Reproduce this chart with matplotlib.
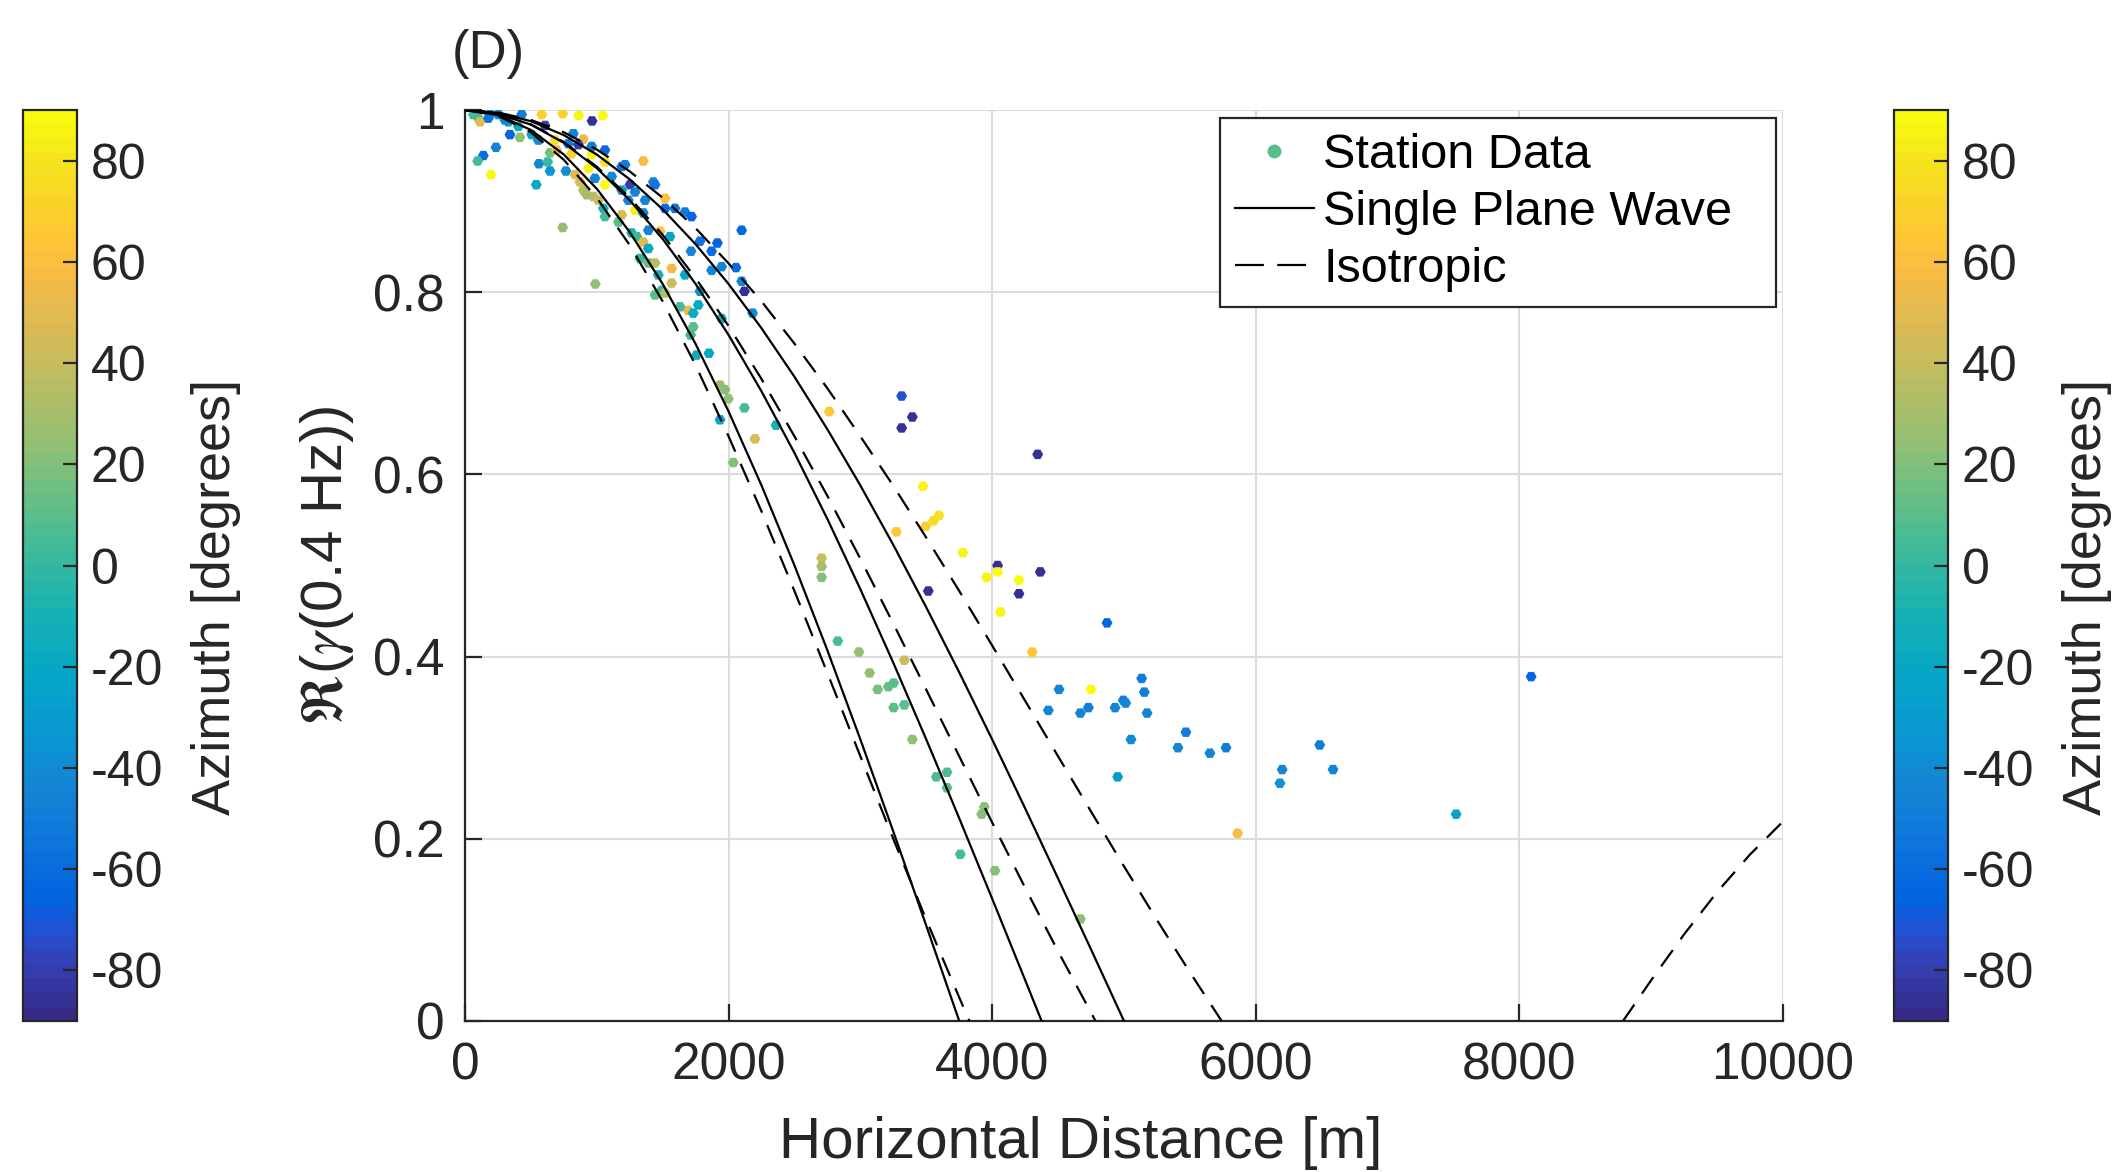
import matplotlib
matplotlib.use("Agg")
import matplotlib.pyplot as plt
from matplotlib.colors import LinearSegmentedColormap
from matplotlib.lines import Line2D

plt.rcParams["font.family"] = ["Liberation Sans", "DejaVu Sans"]
plt.rcParams["mathtext.fontset"] = "stix"
plt.rcParams["axes.unicode_minus"] = False

# station data: horizontal distance [m], coherence, azimuth [deg]
station_dist = [
    190, 253, 101, 114, 177, 430, 582, 741, 862, 964, 1045, 329, 341, 417, 405, 506,
    556, 607, 235, 139, 96, 197, 561, 627, 645, 645, 766, 541, 683, 784, 822, 898,
    695, 809, 860, 961, 1062, 936, 961, 1062, 835, 872, 898, 923, 974, 1012, 986, 1062,
    1113, 1189, 1214, 1353, 1429, 1442, 1518, 1252, 1290, 1189, 1239, 1366, 1290, 1353,
    1518, 1593, 1669, 1719, 1050, 1062, 1189, 1164, 1391, 1480, 1555, 1265, 1303, 1353,
    1391, 1328, 1391, 1442, 1467, 1568, 1568, 1492, 1518, 1442, 1669, 1715, 1783, 1871,
    1915, 1947, 1871, 2056, 2099, 2099, 2120, 2182, 1783, 1770, 1694, 1732, 1631, 1732,
    1712, 1757, 1851, 1947, 1935, 1972, 1998, 2120, 1935, 741, 989, 63, 303, 2036,
    2360, 2200, 2764, 3313, 3394, 3313, 4345, 3475, 3596, 3554, 3495, 3273, 3778, 4041,
    4041, 3958, 4203, 4365, 4203, 3515, 4062, 4871, 4304, 2706, 2706, 2706, 2828, 2989,
    3333, 3070, 3252, 3212, 3131, 3333, 3252, 3394, 4507, 4750, 4426, 4669, 4730, 4932,
    4995, 5013, 5134, 5154, 5175, 5053, 3576, 3657, 3657, 3940, 3920, 3758, 4021, 4669,
    4952, 5862, 5409, 5470, 5652, 5774, 6200, 6183, 6485, 6586, 7520, 8089,
]
station_coh = [
    0.995, 0.995, 0.991, 0.987, 0.991, 0.995, 0.995, 0.996, 0.994, 0.988, 0.994, 0.987,
    0.973, 0.970, 0.982, 0.973, 0.967, 0.983, 0.959, 0.950, 0.944, 0.929, 0.941, 0.943,
    0.953, 0.933, 0.933, 0.918, 0.967, 0.963, 0.974, 0.968, 0.956, 0.952, 0.962, 0.951,
    0.943, 0.936, 0.960, 0.956, 0.929, 0.921, 0.912, 0.907, 0.905, 0.901, 0.925, 0.918,
    0.927, 0.938, 0.940, 0.944, 0.921, 0.918, 0.903, 0.918, 0.910, 0.912, 0.901, 0.901,
    0.890, 0.887, 0.892, 0.892, 0.888, 0.883, 0.892, 0.883, 0.885, 0.877, 0.868, 0.867,
    0.861, 0.865, 0.861, 0.855, 0.848, 0.837, 0.832, 0.832, 0.819, 0.826, 0.810, 0.802,
    0.799, 0.797, 0.819, 0.845, 0.856, 0.845, 0.854, 0.828, 0.824, 0.827, 0.868, 0.812,
    0.801, 0.777, 0.801, 0.786, 0.780, 0.777, 0.784, 0.762, 0.753, 0.731, 0.733, 0.771,
    0.698, 0.693, 0.683, 0.673, 0.660, 0.871, 0.809, 0.995, 0.989, 0.613,
    0.654, 0.639, 0.669, 0.686, 0.663, 0.651, 0.622, 0.587, 0.555, 0.549, 0.543, 0.537,
    0.514, 0.500, 0.493, 0.487, 0.484, 0.493, 0.469, 0.472, 0.449, 0.437, 0.405, 0.508,
    0.499, 0.487, 0.417, 0.405, 0.396, 0.382, 0.371, 0.367, 0.364, 0.347, 0.344, 0.309,
    0.364, 0.364, 0.341, 0.338, 0.344, 0.344, 0.352, 0.349, 0.376, 0.361, 0.338, 0.309,
    0.268, 0.273, 0.256, 0.235, 0.227, 0.183, 0.165, 0.112, 0.268, 0.206, 0.300, 0.317,
    0.294, 0.300, 0.276, 0.261, 0.303, 0.276, 0.227, 0.378,
]
station_az = [
    -40, -40, 5, 50, -55, -50, 70, 72, 85, -85, 88, -20, -62, 25, -15, -20,
    -40, -80, -45, -60, 5, 88, -40, 0, 15, -35, -40, -20, 80, -50, -45, 55,
    55, 70, -80, 85, 80, 85, -50, -60, 50, 45, 35, 30, 35, 40, -45, 88,
    -40, -55, -50, 58, -45, -55, 60, -80, -45, -30, -45, -45, 85, -45,
    -60, -55, -50, -62, -10, 5, 45, 10, -45, 62, -25, -10, 0, 50,
    -20, 0, 15, 35, -10, 55, 40, 0, 35, 10, -20, -45, -55, -60,
    -65, -45, -45, -60, -62, -45, -85, -40, -35, -20, 55, -15, 5, 10,
    5, -15, -20, -15, 25, 20, 25, 5, -20, 25, 25, 5, -40, 22,
    -10, 45, 65, -72, -85, -85, -85, 85, 80, 75, 70, 65, 85, -85,
    88, 85, 88, -85, -85, -85, 85, -62, 65, 40, 30, 20, 5, 25,
    40, 25, 10, 12, 18, 10, 10, 25, -45, 88, -45, -45, -50, -45,
    -48, -45, -50, -50, -45, -40, 8, 8, 10, 22, 22, 5, 20, 20,
    -30, 58, -45, -50, -45, -48, -45, -35, -50, -45, -25, -62,
]

# model curves, values read every 250 m along the distance axis
curve_dist = [0, 250, 500, 750, 1000, 1250, 1500, 1750, 2000, 2250, 2500, 2750,
              3000, 3250, 3500, 3750, 4000, 4250, 4500, 4750, 5000, 5250, 5500]
plane_wave_6000 = [1, .9945, .9781, .9511, .9135, .8660, .8090, .7431, .6691, .5878,
                   .5000, .4067, .3090, .2079, .1045]
plane_wave_7000 = [1, .9960, .9839, .9640, .9362, .9010, .8584, .8090, .7530, .6911,
                   .6235, .5509, .4739, .3931, .3090, .2225, .1342, .0449]
plane_wave_8000 = [1, .9969, .9877, .9724, .9511, .9239, .8910, .8526, .8090, .7604,
                   .7071, .6494, .5878, .5225, .4540, .3827, .3090, .2334, .1564, .0785]
plane_wave_zero = [3750, 4375, 5000]

iso_4000 = [1, .9938, .9755, .9453, .9037, .8516, .7899, .7198, .6417, .5594, .4719,
            .3818, .2905, .1998, .1110, .0258]
iso_5000 = [1, .9961, .9843, .9648, .9378, .9037, .8629, .8154, .7629, .7046, .6417,
            .5763, .5073, .4361, .3636, .2905, .2178, .1462, .0764, .0091]
iso_6000 = [1, .9973, .9891, .9755, .9566, .9326, .9037, .8702, .8316, .7899, .7435,
            .6944, .6417, .5874, .5305, .4720, .4121, .3515, .2905, .2299, .1698,
            .1109, .0535]
iso_zero = [3827, 4784, 5741]
iso_4000_tail_dist = [8786, 9000, 9250, 9500, 9750, 10000]
iso_4000_tail = [0, .0448, .0952, .1415, .1828, .2190]

# parula anchors (index out of 63, rgb)
parula_idx = [0, 4, 6, 8, 12, 16, 20, 24, 28, 32, 36, 40, 44, 48, 52, 54, 56, 60, 63]
parula_rgb = [
    (0.2081, 0.1663, 0.5292), (0.1959, 0.2645, 0.7279), (0.1253, 0.3242, 0.8303),
    (0.0117, 0.3875, 0.8820), (0.0498, 0.4586, 0.8641), (0.0793, 0.5200, 0.8312),
    (0.0343, 0.5966, 0.8199), (0.0228, 0.6535, 0.7768), (0.0843, 0.6928, 0.7062),
    (0.2178, 0.7250, 0.6193), (0.3953, 0.7459, 0.5244), (0.5709, 0.7485, 0.4494),
    (0.7184, 0.7411, 0.3905), (0.8507, 0.7299, 0.3360), (0.9739, 0.7314, 0.2666),
    (0.9990, 0.7653, 0.2164), (0.9880, 0.8066, 0.1794), (0.9589, 0.8949, 0.1132),
    (0.9763, 0.9831, 0.0538),
]

DARK = "#262626"


def make_parula():
    pts = [(i / 63.0, c) for i, c in zip(parula_idx, parula_rgb)]
    return LinearSegmentedColormap.from_list("parula", pts, N=64)


def main():
    parula = make_parula()
    fig = plt.figure(figsize=(21.26, 11.72), dpi=100)
    ax = fig.add_axes([465 / 2126, 1 - 1021 / 1172, 1318 / 2126, 911 / 1172])

    sc = ax.scatter(station_dist, station_coh, c=station_az, cmap=parula,
                    vmin=-90, vmax=90, s=62, marker="H", linewidths=0, zorder=2)

    dash = (0, (9, 6))
    for vals, zero in zip([plane_wave_6000, plane_wave_7000, plane_wave_8000],
                          plane_wave_zero):
        ax.plot(curve_dist[:len(vals)] + [zero], vals + [0], color="k", lw=1.6, zorder=3)
    for vals, zero in zip([iso_4000, iso_5000, iso_6000], iso_zero):
        ax.plot(curve_dist[:len(vals)] + [zero], vals + [0], color="k", lw=1.6,
                ls=dash, zorder=3)
    ax.plot(iso_4000_tail_dist, iso_4000_tail, color="k", lw=1.6, ls=dash, zorder=3)

    ax.set_xlim(0, 10000)
    ax.set_ylim(0, 1)
    ax.set_xticks(range(0, 10001, 2000))
    ax.set_yticks([0, 0.2, 0.4, 0.6, 0.8, 1])
    ax.set_yticklabels(["0", "0.2", "0.4", "0.6", "0.8", "1"])
    for side in ["top", "right"]:
        ax.spines[side].set_visible(False)
    for side in ["left", "bottom"]:
        ax.spines[side].set_color(DARK)
        ax.spines[side].set_linewidth(1.6)
    ax.grid(True, color="#dcdcdc", lw=1.5)
    ax.set_axisbelow(True)
    ax.tick_params(direction="in", length=12, width=1.6, labelsize=37, pad=15,
                   colors=DARK)
    ax.set_xlabel("Horizontal Distance [m]", fontsize=42, color=DARK, labelpad=18)
    ax.xaxis.label.set_x(0.467)
    ax.set_ylabel(r"$\Re$($\gamma$(0.4 Hz))", fontsize=42, color=DARK, labelpad=12)

    for left in [23 / 2126, 1894 / 2126]:
        cax = fig.add_axes([left, 1 - 1021 / 1172, 54 / 2126, 911 / 1172])
        cb = fig.colorbar(sc, cax=cax, ticks=range(-80, 81, 20))
        cb.outline.set_linewidth(1.6)
        cb.outline.set_edgecolor(DARK)
        cax.tick_params(direction="in", length=10, width=1.6, labelsize=36, pad=10,
                        colors=DARK)
        cb.set_label("Azimuth [degrees]", fontsize=39, color=DARK, labelpad=20)
        cax.yaxis.label.set_y(0.465)

    fig.text(452 / 2126, 1 - 54 / 1172, "(D)", fontsize=38, va="center", ha="left",
             color=DARK)

    handles = [
        Line2D([], [], ls="none", marker="o", ms=10, mfc=parula(0.55), mec="none"),
        Line2D([], [], color="k", lw=1.6),
        Line2D([], [], color="k", lw=1.6, ls=(0, (13, 6))),
    ]
    leg = ax.legend(handles, ["Station Data", "Single Plane Wave", "Isotropic"],
                    loc="upper left", bbox_to_anchor=(0.573, 0.785, 0.4219, 0.206),
                    mode="expand", fontsize=35,
                    frameon=True, fancybox=False, framealpha=1, edgecolor=DARK,
                    borderaxespad=0, handlelength=1.62, handletextpad=0.2,
                    labelspacing=0.25, borderpad=0.3)
    leg.get_frame().set_linewidth(1.6)

    fig.savefig("out.png", dpi=100)


if __name__ == "__main__":
    main()
